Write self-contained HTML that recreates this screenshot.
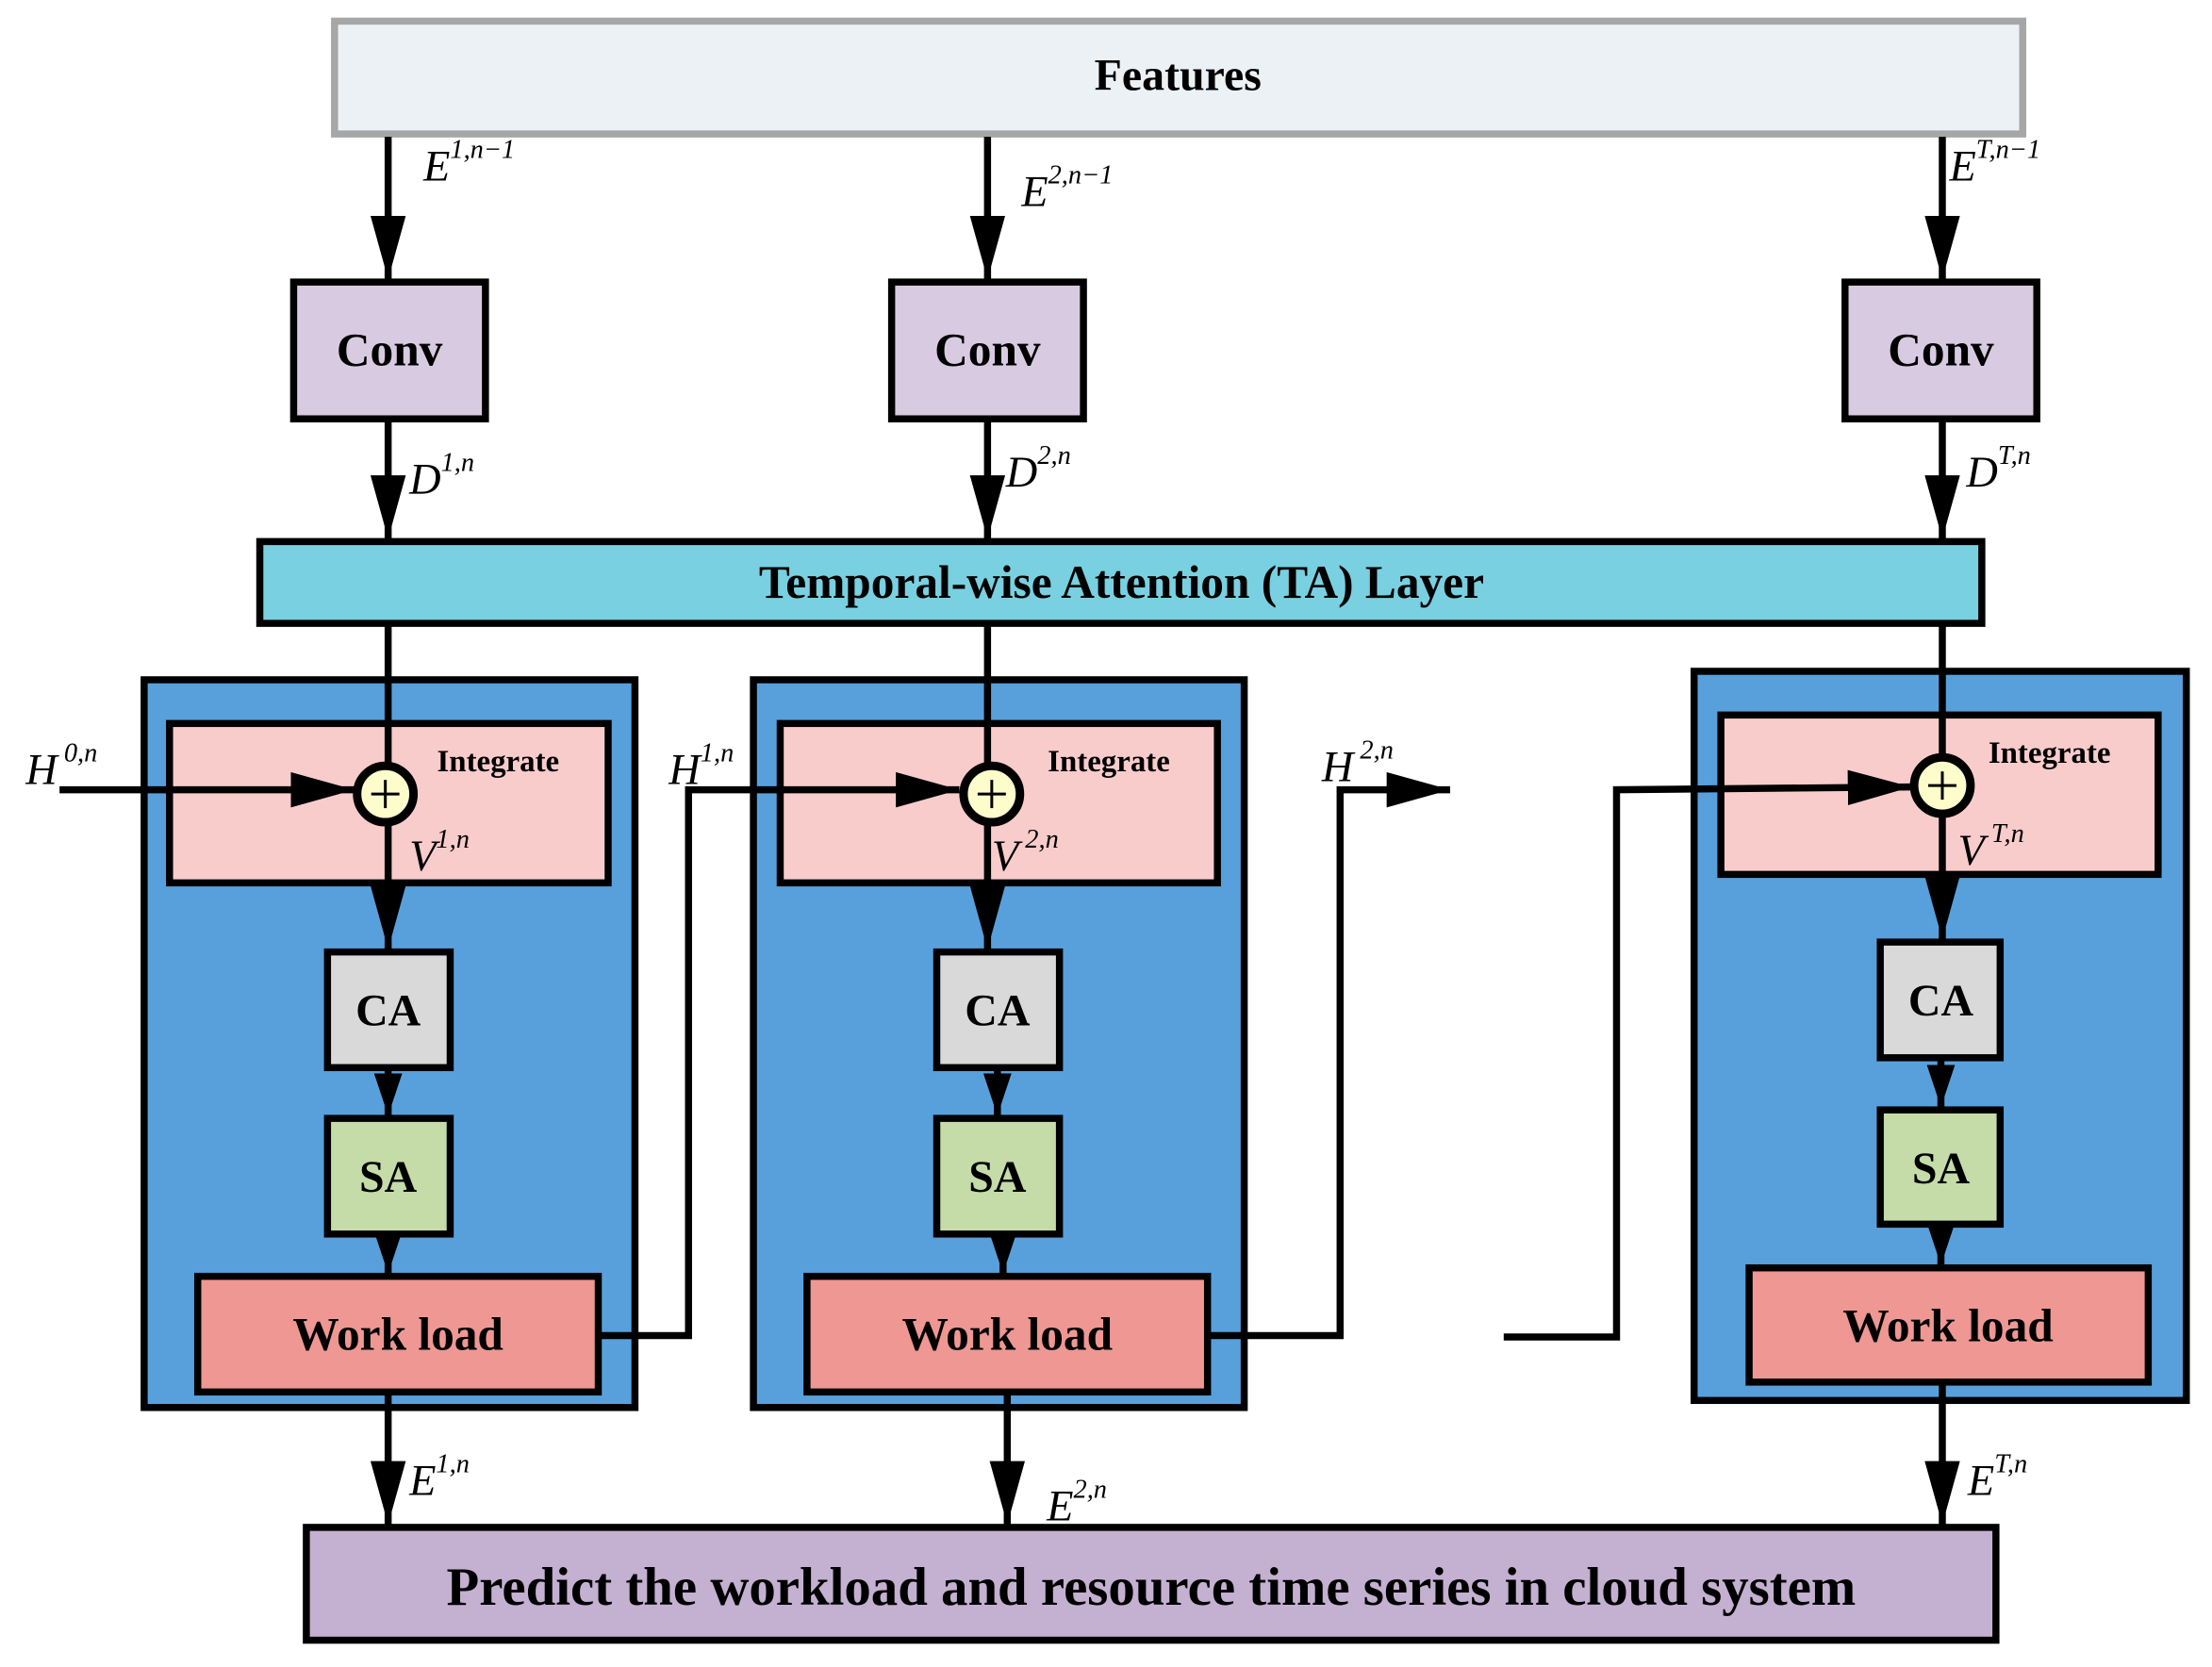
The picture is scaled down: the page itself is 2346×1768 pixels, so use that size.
<!DOCTYPE html>
<html><head><meta charset="utf-8"><style>
html,body{margin:0;padding:0;background:#fff}
svg{display:block}
.b{font-family:"Liberation Serif",serif;font-weight:bold;fill:#000}
.m{font-family:"Liberation Serif",serif;font-style:italic;fill:#000;font-size:31px}
.s{font-size:19px}
</style></head><body>
<svg width="2346" height="1768" viewBox="0 0 1568 1182" xmlns="http://www.w3.org/2000/svg">
<defs>
<marker id="a" viewBox="0 0 10 10" refX="10" refY="5" markerWidth="9" markerHeight="5" markerUnits="strokeWidth" orient="auto" preserveAspectRatio="none"><path d="M0,0 L10,5 L0,10 z" fill="#000"/></marker>
<marker id="as" viewBox="0 0 10 10" refX="10" refY="5" markerWidth="6" markerHeight="4" markerUnits="strokeWidth" orient="auto" preserveAspectRatio="none"><path d="M0,0 L10,5 L0,10 z" fill="#000"/></marker>
</defs>
<g stroke="#000" stroke-width="5" fill="none">
<rect x="237" y="15" width="1197" height="80" fill="#ecf1f6" stroke="#a6a6a6"/>
<line x1="275" y1="97" x2="275" y2="198" marker-end="url(#a)"/>
<line x1="700" y1="97" x2="700" y2="198" marker-end="url(#a)"/>
<line x1="1377" y1="97" x2="1377" y2="198" marker-end="url(#a)"/>
<rect x="208" y="200" width="136" height="97" fill="#d8cbe1"/>
<rect x="632" y="200" width="136" height="97" fill="#d8cbe1"/>
<rect x="1308" y="200" width="136" height="97" fill="#d8cbe1"/>
<line x1="275" y1="297" x2="275" y2="382" marker-end="url(#a)"/>
<line x1="700" y1="297" x2="700" y2="382" marker-end="url(#a)"/>
<line x1="1377" y1="297" x2="1377" y2="382" marker-end="url(#a)"/>
<rect x="184" y="384" width="1221" height="58" fill="#79d0e0"/>
<rect x="102" y="482" width="348" height="516" fill="#58a0dc"/>
<rect x="534" y="482" width="348" height="516" fill="#58a0dc"/>
<rect x="1201" y="476" width="349" height="517" fill="#58a0dc"/>
<rect x="120" y="513" width="311" height="113" fill="#f9cccc"/>
<rect x="553" y="513" width="310" height="113" fill="#f9cccc"/>
<rect x="1220" y="507" width="310" height="113" fill="#f9cccc"/>
<line x1="275" y1="442" x2="275" y2="673" marker-end="url(#a)"/>
<line x1="700" y1="442" x2="700" y2="673" marker-end="url(#a)"/>
<line x1="1377" y1="442" x2="1377" y2="666" marker-end="url(#a)"/>
<line x1="42" y1="560" x2="251" y2="560" marker-end="url(#a)"/>
<polyline points="425,947 488,947 488,560 680,560" marker-end="url(#a)"/>
<polyline points="855,947 950,947 950,560 1028,560" marker-end="url(#a)"/>
<polyline points="1066,948 1146,948 1146,560 1355,558" marker-end="url(#a)"/>
<circle cx="273" cy="563" r="20" fill="#fdfccb" stroke-width="6"/>
<circle cx="703" cy="563" r="20" fill="#fdfccb" stroke-width="6"/>
<circle cx="1377" cy="557" r="20" fill="#fdfccb" stroke-width="6"/>
<rect x="232" y="675" width="87" height="82" fill="#d9d9d9"/>
<rect x="664" y="675" width="87" height="82" fill="#d9d9d9"/>
<rect x="1333" y="668" width="85" height="82" fill="#d9d9d9"/>
<line x1="275" y1="757" x2="275" y2="791" marker-end="url(#as)"/>
<line x1="707" y1="757" x2="707" y2="791" marker-end="url(#as)"/>
<line x1="1376" y1="750" x2="1376" y2="785" marker-end="url(#as)"/>
<rect x="232" y="793" width="87" height="82" fill="#c5dba8"/>
<rect x="664" y="793" width="87" height="82" fill="#c5dba8"/>
<rect x="1333" y="787" width="85" height="81" fill="#c5dba8"/>
<line x1="275" y1="875" x2="275" y2="903" marker-end="url(#as)"/>
<line x1="711" y1="875" x2="711" y2="903" marker-end="url(#as)"/>
<line x1="1376" y1="868" x2="1376" y2="897" marker-end="url(#as)"/>
<rect x="140" y="905" width="284" height="82" fill="#ee9793"/>
<rect x="572" y="905" width="284" height="82" fill="#ee9793"/>
<rect x="1240" y="899" width="283" height="81" fill="#ee9793"/>
<line x1="275" y1="987" x2="275" y2="1081" marker-end="url(#a)"/>
<line x1="714" y1="987" x2="714" y2="1081" marker-end="url(#a)"/>
<line x1="1377" y1="980" x2="1377" y2="1081" marker-end="url(#a)"/>
<rect x="217" y="1083" width="1198" height="80" fill="#c4b0d0"/>
</g>
<g stroke="#000" stroke-width="2">
<line x1="263" y1="563" x2="283" y2="563"/><line x1="273" y1="553" x2="273" y2="573"/>
<line x1="693" y1="563" x2="713" y2="563"/><line x1="703" y1="553" x2="703" y2="573"/>
<line x1="1367" y1="557" x2="1387" y2="557"/><line x1="1377" y1="547" x2="1377" y2="567"/>
</g>
<g class="b" text-anchor="middle">
<text x="835" y="64" font-size="32">Features</text>
<text x="276" y="259" font-size="33">Conv</text>
<text x="700" y="259" font-size="33">Conv</text>
<text x="1376" y="259" font-size="33">Conv</text>
<text x="795" y="424" font-size="33">Temporal-wise Attention (TA) Layer</text>
<text x="353" y="547" font-size="22">Integrate</text>
<text x="786" y="547" font-size="22">Integrate</text>
<text x="1453" y="541" font-size="22">Integrate</text>
<text x="275" y="727" font-size="32">CA</text>
<text x="707" y="727" font-size="32">CA</text>
<text x="1376" y="720" font-size="32">CA</text>
<text x="275" y="845" font-size="32">SA</text>
<text x="707" y="845" font-size="32">SA</text>
<text x="1376" y="839" font-size="32">SA</text>
<text x="282" y="957" font-size="33">Work load</text>
<text x="714" y="957" font-size="33">Work load</text>
<text x="1381" y="951" font-size="33">Work load</text>
<text x="816" y="1138" font-size="38">Predict the workload and resource time series in cloud system</text>
</g>
<g class="m">
<text x="300" y="128">E<tspan class="s" dy="-16">1,n−1</tspan></text>
<text x="724" y="146">E<tspan class="s" dy="-16">2,n−1</tspan></text>
<text x="1382" y="128">E<tspan class="s" dy="-16">T,n−1</tspan></text>
<text x="290" y="350">D<tspan class="s" dy="-16">1,n</tspan></text>
<text x="713" y="345">D<tspan class="s" dy="-16">2,n</tspan></text>
<text x="1394" y="345">D<tspan class="s" dy="-16">T,n</tspan></text>
<text x="18" y="556">H<tspan class="s" dy="-16"> 0,n</tspan></text>
<text x="474" y="556">H<tspan class="s" dy="-16">1,n</tspan></text>
<text x="937" y="554">H<tspan class="s" dy="-16"> 2,n</tspan></text>
<text x="290" y="617">V<tspan class="s" dy="-16">1,n</tspan></text>
<text x="703" y="617">V<tspan class="s" dy="-16"> 2,n</tspan></text>
<text x="1388" y="613">V<tspan class="s" dy="-16"> T,n</tspan></text>
<text x="290" y="1060">E<tspan class="s" dy="-16">1,n</tspan></text>
<text x="742" y="1078">E<tspan class="s" dy="-16">2,n</tspan></text>
<text x="1395" y="1060">E<tspan class="s" dy="-16">T,n</tspan></text>
</g>
</svg>
</body></html>
